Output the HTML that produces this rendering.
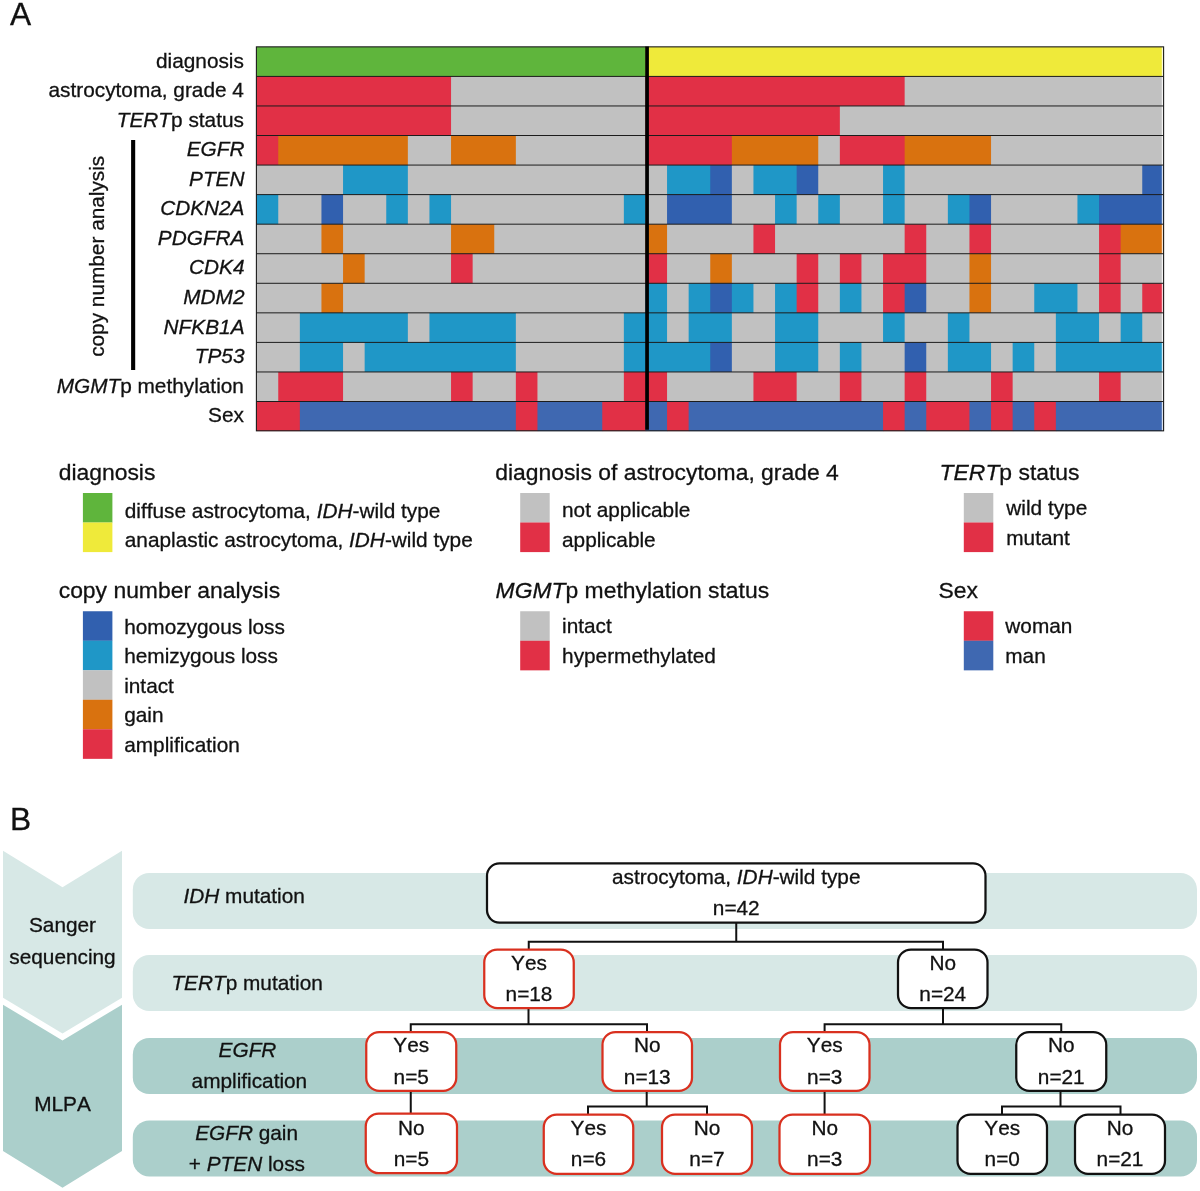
<!DOCTYPE html>
<html><head><meta charset="utf-8"><title>Figure</title>
<style>html,body{margin:0;padding:0;background:#fff}body{width:1200px;height:1191px;position:relative;overflow:hidden;font-family:"Liberation Sans",sans-serif}</style></head>
<body>
<svg width="1200" height="1191" viewBox="0 0 1200 1191" style="position:absolute;left:0;top:0;will-change:transform;transform:translateZ(0);font-family:'Liberation Sans',sans-serif;font-size:20.8px;fill:#111">
<style>text{stroke:#111;stroke-width:0.3px;font-kerning:none}</style>
<rect width="1200" height="1191" fill="#fff"/>
<rect x="256.40" y="46.85" width="390.05" height="30.16" fill="#5fb53c"/>
<rect x="645.45" y="46.85" width="518.15" height="30.16" fill="#efea3a"/>
<rect x="256.40" y="76.41" width="195.65" height="30.16" fill="#e13046"/>
<rect x="451.05" y="76.41" width="195.40" height="30.16" fill="#c1c1c1"/>
<rect x="645.45" y="76.41" width="260.20" height="30.16" fill="#e13046"/>
<rect x="904.65" y="76.41" width="258.95" height="30.16" fill="#c1c1c1"/>
<rect x="256.40" y="105.96" width="195.65" height="30.16" fill="#e13046"/>
<rect x="451.05" y="105.96" width="195.40" height="30.16" fill="#c1c1c1"/>
<rect x="645.45" y="105.96" width="195.40" height="30.16" fill="#e13046"/>
<rect x="839.85" y="105.96" width="323.75" height="30.16" fill="#c1c1c1"/>
<rect x="256.40" y="135.51" width="22.85" height="30.16" fill="#e13046"/>
<rect x="278.25" y="135.51" width="130.60" height="30.16" fill="#d9720f"/>
<rect x="407.85" y="135.51" width="44.20" height="30.16" fill="#c1c1c1"/>
<rect x="451.05" y="135.51" width="65.80" height="30.16" fill="#d9720f"/>
<rect x="515.85" y="135.51" width="130.60" height="30.16" fill="#c1c1c1"/>
<rect x="645.45" y="135.51" width="87.40" height="30.16" fill="#e13046"/>
<rect x="731.85" y="135.51" width="87.40" height="30.16" fill="#d9720f"/>
<rect x="818.25" y="135.51" width="22.60" height="30.16" fill="#c1c1c1"/>
<rect x="839.85" y="135.51" width="65.80" height="30.16" fill="#e13046"/>
<rect x="904.65" y="135.51" width="87.40" height="30.16" fill="#d9720f"/>
<rect x="991.05" y="135.51" width="172.55" height="30.16" fill="#c1c1c1"/>
<rect x="256.40" y="165.07" width="87.65" height="30.16" fill="#c1c1c1"/>
<rect x="343.05" y="165.07" width="65.80" height="30.16" fill="#1f97c7"/>
<rect x="407.85" y="165.07" width="260.20" height="30.16" fill="#c1c1c1"/>
<rect x="667.05" y="165.07" width="44.20" height="30.16" fill="#1f97c7"/>
<rect x="710.25" y="165.07" width="22.60" height="30.16" fill="#3160af"/>
<rect x="731.85" y="165.07" width="22.60" height="30.16" fill="#c1c1c1"/>
<rect x="753.45" y="165.07" width="44.20" height="30.16" fill="#1f97c7"/>
<rect x="796.65" y="165.07" width="22.60" height="30.16" fill="#3160af"/>
<rect x="818.25" y="165.07" width="65.80" height="30.16" fill="#c1c1c1"/>
<rect x="883.05" y="165.07" width="22.60" height="30.16" fill="#1f97c7"/>
<rect x="904.65" y="165.07" width="238.60" height="30.16" fill="#c1c1c1"/>
<rect x="1142.25" y="165.07" width="21.35" height="30.16" fill="#3160af"/>
<rect x="256.40" y="194.62" width="22.85" height="30.16" fill="#1f97c7"/>
<rect x="278.25" y="194.62" width="44.20" height="30.16" fill="#c1c1c1"/>
<rect x="321.45" y="194.62" width="22.60" height="30.16" fill="#3160af"/>
<rect x="343.05" y="194.62" width="44.20" height="30.16" fill="#c1c1c1"/>
<rect x="386.25" y="194.62" width="22.60" height="30.16" fill="#1f97c7"/>
<rect x="407.85" y="194.62" width="22.60" height="30.16" fill="#c1c1c1"/>
<rect x="429.45" y="194.62" width="22.60" height="30.16" fill="#1f97c7"/>
<rect x="451.05" y="194.62" width="173.80" height="30.16" fill="#c1c1c1"/>
<rect x="623.85" y="194.62" width="22.60" height="30.16" fill="#1f97c7"/>
<rect x="645.45" y="194.62" width="22.60" height="30.16" fill="#c1c1c1"/>
<rect x="667.05" y="194.62" width="65.80" height="30.16" fill="#3160af"/>
<rect x="731.85" y="194.62" width="44.20" height="30.16" fill="#c1c1c1"/>
<rect x="775.05" y="194.62" width="22.60" height="30.16" fill="#1f97c7"/>
<rect x="796.65" y="194.62" width="22.60" height="30.16" fill="#c1c1c1"/>
<rect x="818.25" y="194.62" width="22.60" height="30.16" fill="#1f97c7"/>
<rect x="839.85" y="194.62" width="44.20" height="30.16" fill="#c1c1c1"/>
<rect x="883.05" y="194.62" width="22.60" height="30.16" fill="#1f97c7"/>
<rect x="904.65" y="194.62" width="44.20" height="30.16" fill="#c1c1c1"/>
<rect x="947.85" y="194.62" width="22.60" height="30.16" fill="#1f97c7"/>
<rect x="969.45" y="194.62" width="22.60" height="30.16" fill="#3160af"/>
<rect x="991.05" y="194.62" width="87.40" height="30.16" fill="#c1c1c1"/>
<rect x="1077.45" y="194.62" width="22.60" height="30.16" fill="#1f97c7"/>
<rect x="1099.05" y="194.62" width="64.55" height="30.16" fill="#3160af"/>
<rect x="256.40" y="224.18" width="66.05" height="30.16" fill="#c1c1c1"/>
<rect x="321.45" y="224.18" width="22.60" height="30.16" fill="#d9720f"/>
<rect x="343.05" y="224.18" width="109.00" height="30.16" fill="#c1c1c1"/>
<rect x="451.05" y="224.18" width="44.20" height="30.16" fill="#d9720f"/>
<rect x="494.25" y="224.18" width="152.20" height="30.16" fill="#c1c1c1"/>
<rect x="645.45" y="224.18" width="22.60" height="30.16" fill="#d9720f"/>
<rect x="667.05" y="224.18" width="87.40" height="30.16" fill="#c1c1c1"/>
<rect x="753.45" y="224.18" width="22.60" height="30.16" fill="#e13046"/>
<rect x="775.05" y="224.18" width="130.60" height="30.16" fill="#c1c1c1"/>
<rect x="904.65" y="224.18" width="22.60" height="30.16" fill="#e13046"/>
<rect x="926.25" y="224.18" width="44.20" height="30.16" fill="#c1c1c1"/>
<rect x="969.45" y="224.18" width="22.60" height="30.16" fill="#e13046"/>
<rect x="991.05" y="224.18" width="109.00" height="30.16" fill="#c1c1c1"/>
<rect x="1099.05" y="224.18" width="22.60" height="30.16" fill="#e13046"/>
<rect x="1120.65" y="224.18" width="42.95" height="30.16" fill="#d9720f"/>
<rect x="256.40" y="253.73" width="87.65" height="30.16" fill="#c1c1c1"/>
<rect x="343.05" y="253.73" width="22.60" height="30.16" fill="#d9720f"/>
<rect x="364.65" y="253.73" width="87.40" height="30.16" fill="#c1c1c1"/>
<rect x="451.05" y="253.73" width="22.60" height="30.16" fill="#e13046"/>
<rect x="472.65" y="253.73" width="173.80" height="30.16" fill="#c1c1c1"/>
<rect x="645.45" y="253.73" width="22.60" height="30.16" fill="#e13046"/>
<rect x="667.05" y="253.73" width="44.20" height="30.16" fill="#c1c1c1"/>
<rect x="710.25" y="253.73" width="22.60" height="30.16" fill="#d9720f"/>
<rect x="731.85" y="253.73" width="65.80" height="30.16" fill="#c1c1c1"/>
<rect x="796.65" y="253.73" width="22.60" height="30.16" fill="#e13046"/>
<rect x="818.25" y="253.73" width="22.60" height="30.16" fill="#c1c1c1"/>
<rect x="839.85" y="253.73" width="22.60" height="30.16" fill="#e13046"/>
<rect x="861.45" y="253.73" width="22.60" height="30.16" fill="#c1c1c1"/>
<rect x="883.05" y="253.73" width="44.20" height="30.16" fill="#e13046"/>
<rect x="926.25" y="253.73" width="44.20" height="30.16" fill="#c1c1c1"/>
<rect x="969.45" y="253.73" width="22.60" height="30.16" fill="#d9720f"/>
<rect x="991.05" y="253.73" width="109.00" height="30.16" fill="#c1c1c1"/>
<rect x="1099.05" y="253.73" width="22.60" height="30.16" fill="#e13046"/>
<rect x="1120.65" y="253.73" width="42.95" height="30.16" fill="#c1c1c1"/>
<rect x="256.40" y="283.29" width="66.05" height="30.16" fill="#c1c1c1"/>
<rect x="321.45" y="283.29" width="22.60" height="30.16" fill="#d9720f"/>
<rect x="343.05" y="283.29" width="303.40" height="30.16" fill="#c1c1c1"/>
<rect x="645.45" y="283.29" width="22.60" height="30.16" fill="#1f97c7"/>
<rect x="667.05" y="283.29" width="22.60" height="30.16" fill="#c1c1c1"/>
<rect x="688.65" y="283.29" width="22.60" height="30.16" fill="#1f97c7"/>
<rect x="710.25" y="283.29" width="22.60" height="30.16" fill="#3160af"/>
<rect x="731.85" y="283.29" width="22.60" height="30.16" fill="#1f97c7"/>
<rect x="753.45" y="283.29" width="22.60" height="30.16" fill="#c1c1c1"/>
<rect x="775.05" y="283.29" width="22.60" height="30.16" fill="#1f97c7"/>
<rect x="796.65" y="283.29" width="22.60" height="30.16" fill="#e13046"/>
<rect x="818.25" y="283.29" width="22.60" height="30.16" fill="#c1c1c1"/>
<rect x="839.85" y="283.29" width="22.60" height="30.16" fill="#1f97c7"/>
<rect x="861.45" y="283.29" width="22.60" height="30.16" fill="#c1c1c1"/>
<rect x="883.05" y="283.29" width="22.60" height="30.16" fill="#e13046"/>
<rect x="904.65" y="283.29" width="22.60" height="30.16" fill="#3160af"/>
<rect x="926.25" y="283.29" width="44.20" height="30.16" fill="#c1c1c1"/>
<rect x="969.45" y="283.29" width="22.60" height="30.16" fill="#d9720f"/>
<rect x="991.05" y="283.29" width="44.20" height="30.16" fill="#c1c1c1"/>
<rect x="1034.25" y="283.29" width="44.20" height="30.16" fill="#1f97c7"/>
<rect x="1077.45" y="283.29" width="22.60" height="30.16" fill="#c1c1c1"/>
<rect x="1099.05" y="283.29" width="22.60" height="30.16" fill="#e13046"/>
<rect x="1120.65" y="283.29" width="22.60" height="30.16" fill="#c1c1c1"/>
<rect x="1142.25" y="283.29" width="21.35" height="30.16" fill="#e13046"/>
<rect x="256.40" y="312.85" width="44.45" height="30.16" fill="#c1c1c1"/>
<rect x="299.85" y="312.85" width="109.00" height="30.16" fill="#1f97c7"/>
<rect x="407.85" y="312.85" width="22.60" height="30.16" fill="#c1c1c1"/>
<rect x="429.45" y="312.85" width="87.40" height="30.16" fill="#1f97c7"/>
<rect x="515.85" y="312.85" width="109.00" height="30.16" fill="#c1c1c1"/>
<rect x="623.85" y="312.85" width="44.20" height="30.16" fill="#1f97c7"/>
<rect x="667.05" y="312.85" width="22.60" height="30.16" fill="#c1c1c1"/>
<rect x="688.65" y="312.85" width="44.20" height="30.16" fill="#1f97c7"/>
<rect x="731.85" y="312.85" width="44.20" height="30.16" fill="#c1c1c1"/>
<rect x="775.05" y="312.85" width="44.20" height="30.16" fill="#1f97c7"/>
<rect x="818.25" y="312.85" width="65.80" height="30.16" fill="#c1c1c1"/>
<rect x="883.05" y="312.85" width="22.60" height="30.16" fill="#1f97c7"/>
<rect x="904.65" y="312.85" width="44.20" height="30.16" fill="#c1c1c1"/>
<rect x="947.85" y="312.85" width="22.60" height="30.16" fill="#1f97c7"/>
<rect x="969.45" y="312.85" width="87.40" height="30.16" fill="#c1c1c1"/>
<rect x="1055.85" y="312.85" width="44.20" height="30.16" fill="#1f97c7"/>
<rect x="1099.05" y="312.85" width="22.60" height="30.16" fill="#c1c1c1"/>
<rect x="1120.65" y="312.85" width="22.60" height="30.16" fill="#1f97c7"/>
<rect x="1142.25" y="312.85" width="21.35" height="30.16" fill="#c1c1c1"/>
<rect x="256.40" y="342.40" width="44.45" height="30.16" fill="#c1c1c1"/>
<rect x="299.85" y="342.40" width="44.20" height="30.16" fill="#1f97c7"/>
<rect x="343.05" y="342.40" width="22.60" height="30.16" fill="#c1c1c1"/>
<rect x="364.65" y="342.40" width="152.20" height="30.16" fill="#1f97c7"/>
<rect x="515.85" y="342.40" width="109.00" height="30.16" fill="#c1c1c1"/>
<rect x="623.85" y="342.40" width="87.40" height="30.16" fill="#1f97c7"/>
<rect x="710.25" y="342.40" width="22.60" height="30.16" fill="#3160af"/>
<rect x="731.85" y="342.40" width="44.20" height="30.16" fill="#c1c1c1"/>
<rect x="775.05" y="342.40" width="44.20" height="30.16" fill="#1f97c7"/>
<rect x="818.25" y="342.40" width="22.60" height="30.16" fill="#c1c1c1"/>
<rect x="839.85" y="342.40" width="22.60" height="30.16" fill="#1f97c7"/>
<rect x="861.45" y="342.40" width="44.20" height="30.16" fill="#c1c1c1"/>
<rect x="904.65" y="342.40" width="22.60" height="30.16" fill="#3160af"/>
<rect x="926.25" y="342.40" width="22.60" height="30.16" fill="#c1c1c1"/>
<rect x="947.85" y="342.40" width="44.20" height="30.16" fill="#1f97c7"/>
<rect x="991.05" y="342.40" width="22.60" height="30.16" fill="#c1c1c1"/>
<rect x="1012.65" y="342.40" width="22.60" height="30.16" fill="#1f97c7"/>
<rect x="1034.25" y="342.40" width="22.60" height="30.16" fill="#c1c1c1"/>
<rect x="1055.85" y="342.40" width="107.75" height="30.16" fill="#1f97c7"/>
<rect x="256.40" y="371.96" width="22.85" height="30.16" fill="#c1c1c1"/>
<rect x="278.25" y="371.96" width="65.80" height="30.16" fill="#e13046"/>
<rect x="343.05" y="371.96" width="109.00" height="30.16" fill="#c1c1c1"/>
<rect x="451.05" y="371.96" width="22.60" height="30.16" fill="#e13046"/>
<rect x="472.65" y="371.96" width="44.20" height="30.16" fill="#c1c1c1"/>
<rect x="515.85" y="371.96" width="22.60" height="30.16" fill="#e13046"/>
<rect x="537.45" y="371.96" width="87.40" height="30.16" fill="#c1c1c1"/>
<rect x="623.85" y="371.96" width="44.20" height="30.16" fill="#e13046"/>
<rect x="667.05" y="371.96" width="87.40" height="30.16" fill="#c1c1c1"/>
<rect x="753.45" y="371.96" width="44.20" height="30.16" fill="#e13046"/>
<rect x="796.65" y="371.96" width="44.20" height="30.16" fill="#c1c1c1"/>
<rect x="839.85" y="371.96" width="22.60" height="30.16" fill="#e13046"/>
<rect x="861.45" y="371.96" width="44.20" height="30.16" fill="#c1c1c1"/>
<rect x="904.65" y="371.96" width="22.60" height="30.16" fill="#e13046"/>
<rect x="926.25" y="371.96" width="65.80" height="30.16" fill="#c1c1c1"/>
<rect x="991.05" y="371.96" width="22.60" height="30.16" fill="#e13046"/>
<rect x="1012.65" y="371.96" width="87.40" height="30.16" fill="#c1c1c1"/>
<rect x="1099.05" y="371.96" width="22.60" height="30.16" fill="#e13046"/>
<rect x="1120.65" y="371.96" width="42.95" height="30.16" fill="#c1c1c1"/>
<rect x="256.40" y="401.51" width="44.45" height="29.55" fill="#e13046"/>
<rect x="299.85" y="401.51" width="217.00" height="29.55" fill="#3f68b1"/>
<rect x="515.85" y="401.51" width="22.60" height="29.55" fill="#e13046"/>
<rect x="537.45" y="401.51" width="65.80" height="29.55" fill="#3f68b1"/>
<rect x="602.25" y="401.51" width="44.20" height="29.55" fill="#e13046"/>
<rect x="645.45" y="401.51" width="22.60" height="29.55" fill="#3f68b1"/>
<rect x="667.05" y="401.51" width="22.60" height="29.55" fill="#e13046"/>
<rect x="688.65" y="401.51" width="195.40" height="29.55" fill="#3f68b1"/>
<rect x="883.05" y="401.51" width="22.60" height="29.55" fill="#e13046"/>
<rect x="904.65" y="401.51" width="22.60" height="29.55" fill="#3f68b1"/>
<rect x="926.25" y="401.51" width="44.20" height="29.55" fill="#e13046"/>
<rect x="969.45" y="401.51" width="22.60" height="29.55" fill="#3f68b1"/>
<rect x="991.05" y="401.51" width="22.60" height="29.55" fill="#e13046"/>
<rect x="1012.65" y="401.51" width="22.60" height="29.55" fill="#3f68b1"/>
<rect x="1034.25" y="401.51" width="22.60" height="29.55" fill="#e13046"/>
<rect x="1055.85" y="401.51" width="107.75" height="29.55" fill="#3f68b1"/>
<rect x="1161.80" y="46.85" width="1.2" height="384.21" fill="#fff" opacity="0.8"/>
<line x1="256.40" y1="76.41" x2="1163.60" y2="76.41" stroke="#1c1c1c" stroke-width="1.0"/>
<line x1="256.40" y1="105.96" x2="1163.60" y2="105.96" stroke="#1c1c1c" stroke-width="1.0"/>
<line x1="256.40" y1="135.51" x2="1163.60" y2="135.51" stroke="#1c1c1c" stroke-width="1.0"/>
<line x1="256.40" y1="165.07" x2="1163.60" y2="165.07" stroke="#1c1c1c" stroke-width="1.0"/>
<line x1="256.40" y1="194.62" x2="1163.60" y2="194.62" stroke="#1c1c1c" stroke-width="1.0"/>
<line x1="256.40" y1="224.18" x2="1163.60" y2="224.18" stroke="#1c1c1c" stroke-width="1.0"/>
<line x1="256.40" y1="253.73" x2="1163.60" y2="253.73" stroke="#1c1c1c" stroke-width="1.0"/>
<line x1="256.40" y1="283.29" x2="1163.60" y2="283.29" stroke="#1c1c1c" stroke-width="1.0"/>
<line x1="256.40" y1="312.85" x2="1163.60" y2="312.85" stroke="#1c1c1c" stroke-width="1.0"/>
<line x1="256.40" y1="342.40" x2="1163.60" y2="342.40" stroke="#1c1c1c" stroke-width="1.0"/>
<line x1="256.40" y1="371.96" x2="1163.60" y2="371.96" stroke="#1c1c1c" stroke-width="1.0"/>
<line x1="256.40" y1="401.51" x2="1163.60" y2="401.51" stroke="#1c1c1c" stroke-width="1.0"/>
<rect x="256.40" y="46.85" width="907.20" height="383.96" fill="none" stroke="#1c1c1c" stroke-width="1.1"/>
<rect x="645.2" y="46.55" width="3.7" height="383.21" fill="#000"/>
<text x="243.9" y="67.50" text-anchor="end">diagnosis</text>
<text x="243.9" y="97.07" text-anchor="end">astrocytoma, grade 4</text>
<text x="243.9" y="126.64" text-anchor="end"><tspan font-style="italic">TERT</tspan>p status</text>
<text x="244.5" y="156.21" text-anchor="end"><tspan font-style="italic">EGFR</tspan></text>
<text x="244.5" y="185.78" text-anchor="end"><tspan font-style="italic">PTEN</tspan></text>
<text x="244.5" y="215.35" text-anchor="end"><tspan font-style="italic">CDKN2A</tspan></text>
<text x="244.5" y="244.92" text-anchor="end"><tspan font-style="italic">PDGFRA</tspan></text>
<text x="244.5" y="274.49" text-anchor="end"><tspan font-style="italic">CDK4</tspan></text>
<text x="244.5" y="304.06" text-anchor="end"><tspan font-style="italic">MDM2</tspan></text>
<text x="244.5" y="333.63" text-anchor="end"><tspan font-style="italic">NFKB1A</tspan></text>
<text x="244.5" y="363.20" text-anchor="end"><tspan font-style="italic">TP53</tspan></text>
<text x="243.9" y="392.77" text-anchor="end"><tspan font-style="italic">MGMT</tspan>p methylation</text>
<text x="243.9" y="422.34" text-anchor="end">Sex</text>
<rect x="131.1" y="140" width="4.1" height="230" fill="#000"/>
<text transform="translate(103.6,256.3) rotate(-90)" text-anchor="middle">copy number analysis</text>
<text x="10.1" y="25.2" font-size="31.7">A</text>
<text x="9.9" y="830.4" font-size="31.7">B</text>
<text x="58.70" y="480.20" font-size="22.9">diagnosis</text>
<rect x="82.90" y="493.00" width="29.5" height="29.60" fill="#5fb53c"/>
<text x="124.80" y="517.50">diffuse astrocytoma, <tspan font-style="italic">IDH</tspan>-wild type</text>
<rect x="82.90" y="522.50" width="29.5" height="29.60" fill="#efea3a"/>
<text x="124.80" y="546.80">anaplastic astrocytoma, <tspan font-style="italic">IDH</tspan>-wild type</text>
<text x="58.70" y="597.60" font-size="22.9">copy number analysis</text>
<rect x="82.90" y="611.25" width="29.5" height="29.60" fill="#3160af"/>
<text x="124.20" y="633.80">homozygous loss</text>
<rect x="82.90" y="640.75" width="29.5" height="29.60" fill="#1f97c7"/>
<text x="124.20" y="663.40">hemizygous loss</text>
<rect x="82.90" y="670.25" width="29.5" height="29.60" fill="#c1c1c1"/>
<text x="124.20" y="692.80">intact</text>
<rect x="82.90" y="699.75" width="29.5" height="29.60" fill="#d9720f"/>
<text x="124.20" y="722.20">gain</text>
<rect x="82.90" y="729.25" width="29.5" height="29.60" fill="#e13046"/>
<text x="124.20" y="751.90">amplification</text>
<text x="495.20" y="480.20" font-size="22.9">diagnosis of astrocytoma, grade 4</text>
<rect x="520.20" y="493.00" width="29.5" height="29.60" fill="#c1c1c1"/>
<text x="562.00" y="517.40">not applicable</text>
<rect x="520.20" y="522.50" width="29.5" height="29.60" fill="#e13046"/>
<text x="562.00" y="547.00">applicable</text>
<text x="495.60" y="597.70" font-size="22.9"><tspan font-style="italic">MGMT</tspan>p methylation status</text>
<rect x="520.20" y="611.25" width="29.5" height="29.60" fill="#c1c1c1"/>
<text x="562.10" y="633.10">intact</text>
<rect x="520.20" y="640.75" width="29.5" height="29.60" fill="#e13046"/>
<text x="562.10" y="662.80">hypermethylated</text>
<text x="939.60" y="479.60" font-size="22.9"><tspan font-style="italic">TERT</tspan>p status</text>
<rect x="963.80" y="493.00" width="29.5" height="29.60" fill="#c1c1c1"/>
<text x="1006.30" y="515.00">wild type</text>
<rect x="963.80" y="522.50" width="29.5" height="29.60" fill="#e13046"/>
<text x="1006.30" y="544.80">mutant</text>
<text x="938.40" y="598.00" font-size="22.9">Sex</text>
<rect x="963.80" y="611.25" width="29.5" height="29.60" fill="#e13046"/>
<text x="1005.30" y="633.30">woman</text>
<rect x="963.80" y="640.75" width="29.5" height="29.60" fill="#3f68b1"/>
<text x="1005.30" y="662.50">man</text>
<polygon points="3,850.8 62.5,887.2 122,850.8 122,997.7 62.5,1033.5 3,997.7" fill="#d7e8e6"/>
<polygon points="3,1004.7 62.5,1040.4 122,1004.7 122,1151 62.5,1187.7 3,1151" fill="#abcfcb"/>
<rect x="132.8" y="873.00" width="1064.2" height="56" rx="16.5" ry="16.5" fill="#d7e8e6"/>
<rect x="132.8" y="955.00" width="1064.2" height="56" rx="16.5" ry="16.5" fill="#d7e8e6"/>
<rect x="132.8" y="1038.00" width="1064.2" height="56" rx="16.5" ry="16.5" fill="#abcfcb"/>
<rect x="132.8" y="1120.40" width="1064.2" height="56" rx="16.5" ry="16.5" fill="#abcfcb"/>
<text x="62.5" y="931.8" text-anchor="middle">Sanger</text>
<text x="62.5" y="963.6" text-anchor="middle">sequencing</text>
<text x="62.5" y="1111" text-anchor="middle">MLPA</text>
<text x="244.2" y="903" text-anchor="middle"><tspan font-style="italic">IDH</tspan> mutation</text>
<text x="247.1" y="990.4" text-anchor="middle"><tspan font-style="italic">TERT</tspan>p mutation</text>
<text x="247.5" y="1057" text-anchor="middle"><tspan font-style="italic">EGFR</tspan></text>
<text x="249.4" y="1088.3" text-anchor="middle">amplification</text>
<text x="246.6" y="1140" text-anchor="middle"><tspan font-style="italic">EGFR</tspan> gain</text>
<text x="246.9" y="1170.5" text-anchor="middle">+ <tspan font-style="italic">PTEN</tspan> loss</text>
<line x1="736.25" y1="922.50" x2="736.25" y2="941.70" stroke="#111" stroke-width="2.0"/>
<polyline points="528.75,949.5 528.75,941.7 943,941.7 943,949.5" fill="none" stroke="#111" stroke-width="2.0"/>
<line x1="528.50" y1="1008.00" x2="528.50" y2="1024.30" stroke="#111" stroke-width="2.0"/>
<polyline points="410.75,1032 410.75,1024.3 647,1024.3 647,1032" fill="none" stroke="#111" stroke-width="2.0"/>
<line x1="943.00" y1="1008.00" x2="943.00" y2="1024.30" stroke="#111" stroke-width="2.0"/>
<polyline points="824.6,1032 824.6,1024.3 1061.25,1024.3 1061.25,1032" fill="none" stroke="#111" stroke-width="2.0"/>
<line x1="410.75" y1="1090.75" x2="410.75" y2="1114.00" stroke="#111" stroke-width="2.0"/>
<line x1="824.60" y1="1090.75" x2="824.60" y2="1114.50" stroke="#111" stroke-width="2.0"/>
<line x1="646.70" y1="1090.75" x2="646.70" y2="1106.40" stroke="#111" stroke-width="2.0"/>
<polyline points="588,1114.5 588,1106.4 707,1106.4 707,1114.5" fill="none" stroke="#111" stroke-width="2.0"/>
<line x1="1060.50" y1="1090.75" x2="1060.50" y2="1106.40" stroke="#111" stroke-width="2.0"/>
<polyline points="1002,1114.5 1002,1106.4 1120.5,1106.4 1120.5,1114.5" fill="none" stroke="#111" stroke-width="2.0"/>
<rect x="487.00" y="863.40" width="498.50" height="59.20" rx="12.5" ry="12.5" fill="#fff" stroke="#111" stroke-width="2.25"/>
<text x="736.25" y="883.90" text-anchor="middle">astrocytoma, <tspan font-style="italic">IDH</tspan>-wild type</text>
<text x="736.25" y="914.60" text-anchor="middle">n=42</text>
<rect x="484.25" y="949.50" width="89.50" height="58.50" rx="13" ry="13" fill="#fff" stroke="#d9301f" stroke-width="2.25"/>
<text x="529.00" y="969.50" text-anchor="middle">Yes</text>
<text x="529.00" y="1000.75" text-anchor="middle">n=18</text>
<rect x="898.00" y="949.50" width="89.50" height="58.50" rx="13" ry="13" fill="#fff" stroke="#111" stroke-width="2.25"/>
<text x="942.75" y="969.50" text-anchor="middle">No</text>
<text x="942.75" y="1000.75" text-anchor="middle">n=24</text>
<rect x="366.25" y="1032.00" width="90.00" height="58.75" rx="13" ry="13" fill="#fff" stroke="#d9301f" stroke-width="2.25"/>
<text x="411.25" y="1052.40" text-anchor="middle">Yes</text>
<text x="411.25" y="1083.50" text-anchor="middle">n=5</text>
<rect x="602.50" y="1032.00" width="89.50" height="58.75" rx="13" ry="13" fill="#fff" stroke="#d9301f" stroke-width="2.25"/>
<text x="647.25" y="1052.40" text-anchor="middle">No</text>
<text x="647.25" y="1083.50" text-anchor="middle">n=13</text>
<rect x="780.00" y="1032.00" width="89.50" height="58.75" rx="13" ry="13" fill="#fff" stroke="#d9301f" stroke-width="2.25"/>
<text x="824.75" y="1052.40" text-anchor="middle">Yes</text>
<text x="824.75" y="1083.50" text-anchor="middle">n=3</text>
<rect x="1016.25" y="1032.00" width="90.00" height="58.75" rx="13" ry="13" fill="#fff" stroke="#111" stroke-width="2.25"/>
<text x="1061.25" y="1052.40" text-anchor="middle">No</text>
<text x="1061.25" y="1083.50" text-anchor="middle">n=21</text>
<rect x="365.75" y="1113.50" width="91.25" height="59.70" rx="13" ry="13" fill="#fff" stroke="#d9301f" stroke-width="2.25"/>
<text x="411.38" y="1134.70" text-anchor="middle">No</text>
<text x="411.38" y="1166.00" text-anchor="middle">n=5</text>
<rect x="543.75" y="1114.50" width="89.50" height="59.25" rx="13" ry="13" fill="#fff" stroke="#d9301f" stroke-width="2.25"/>
<text x="588.50" y="1134.70" text-anchor="middle">Yes</text>
<text x="588.50" y="1166.00" text-anchor="middle">n=6</text>
<rect x="662.00" y="1114.50" width="90.00" height="59.25" rx="13" ry="13" fill="#fff" stroke="#d9301f" stroke-width="2.25"/>
<text x="707.00" y="1134.70" text-anchor="middle">No</text>
<text x="707.00" y="1166.00" text-anchor="middle">n=7</text>
<rect x="779.50" y="1114.50" width="90.50" height="59.25" rx="13" ry="13" fill="#fff" stroke="#d9301f" stroke-width="2.25"/>
<text x="824.75" y="1134.70" text-anchor="middle">No</text>
<text x="824.75" y="1166.00" text-anchor="middle">n=3</text>
<rect x="957.50" y="1114.50" width="89.50" height="59.25" rx="13" ry="13" fill="#fff" stroke="#111" stroke-width="2.25"/>
<text x="1002.25" y="1134.70" text-anchor="middle">Yes</text>
<text x="1002.25" y="1166.00" text-anchor="middle">n=0</text>
<rect x="1075.00" y="1114.50" width="90.00" height="59.25" rx="13" ry="13" fill="#fff" stroke="#111" stroke-width="2.25"/>
<text x="1120.00" y="1134.70" text-anchor="middle">No</text>
<text x="1120.00" y="1166.00" text-anchor="middle">n=21</text>
</svg>
</body></html>
